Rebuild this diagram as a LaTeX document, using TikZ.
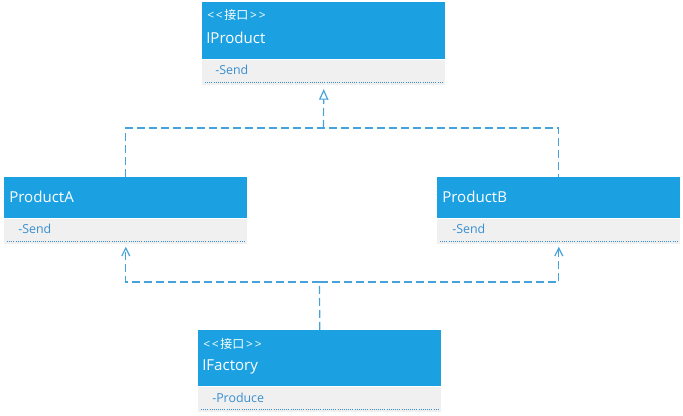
\documentclass[tikz,border=0pt]{standalone}
\usepackage{fontspec}
\setmainfont{Open Sans}
\newfontfamily\cjk{Noto Sans CJK SC}
\usetikzlibrary{arrows.meta,positioning}
\definecolor{umlblue}{HTML}{1BA1E2}
\definecolor{umlbody}{HTML}{F0F0F0}
\definecolor{umltext}{HTML}{3A8FCF}
\definecolor{umlline}{HTML}{45A2DA}
\newcommand{\stereotag}{<\kern1.4pt<\kern1.2pt{\cjk 接口}\kern1.2pt>\kern1.4pt>}

\begin{document}
\begin{tikzpicture}[
  x=0.75pt, y=-0.75pt,
  hdr/.style={rectangle, fill=umlblue, anchor=north west, inner sep=0pt, minimum width=182.25pt},
  bodybox/.style={rectangle, fill=umlbody, inner sep=0pt, minimum width=182.25pt, minimum height=18.75pt},
  stereo/.style={anchor=west, inner sep=0pt, text=white, font=\fontsize{9}{11}\selectfont},
  cname/.style={anchor=west, inner sep=0pt, text=white, font=\fontsize{11.3}{13}\selectfont},
  attr/.style={anchor=west, inner sep=0pt, text=umltext, font=\fontsize{9.3}{11}\selectfont},
  dotline/.style={draw=umltext, densely dotted, line width=0.6pt},
  conn/.style={draw=umlline, line width=0.9pt, dash pattern=on 6pt off 3pt},
  realize/.style={conn, -{Triangle[open, length=8pt, width=7pt]}, shorten >=3pt},
  depend/.style={conn, -{Straight Barb[length=6pt, width=6pt]}, shorten >=2pt}
]
\useasboundingbox (0,0) rectangle (683,416);

% ---- IProduct ----
\node[hdr, minimum height=42.75pt] (iproduct) at (202,2) {};
\node[bodybox, below=0pt of iproduct] (iproductbody) {};
\node[stereo] (iproductst) at (207,15) {\stereotag};
\node[cname] (iproductname) at (206,38) {IProduct};
\node[attr] (iproductattr) at (215,70) {-Send};
\draw[dotline] ([shift={(3,-3)}]iproductbody.south west) -- ([shift={(-3,-3)}]iproductbody.south east);

% ---- ProductA ----
\node[hdr, minimum height=30.75pt] (producta) at (4,177) {};
\node[bodybox, below=0pt of producta] (productabody) {};
\node[cname] (productaname) at (9,197) {ProductA};
\node[attr] (productaattr) at (18,229) {-Send};
\draw[dotline] ([shift={(3,-3)}]productabody.south west) -- ([shift={(-3,-3)}]productabody.south east);

% ---- ProductB ----
\node[hdr, minimum height=30.75pt] (productb) at (437,177) {};
\node[bodybox, below=0pt of productb] (productbbody) {};
\node[cname] (productbname) at (442,197) {ProductB};
\node[attr] (productbattr) at (452,229) {-Send};
\draw[dotline] ([shift={(3,-3)}]productbbody.south west) -- ([shift={(-3,-3)}]productbbody.south east);

% ---- IFactory ----
\node[hdr, minimum height=42pt] (ifactory) at (198,330) {};
\node[bodybox, below=0pt of ifactory] (ifactorybody) {};
\node[stereo] (ifactoryst) at (203,344) {\stereotag};
\node[cname] (ifactoryname) at (202,367) {IFactory};
\node[attr] (ifactoryattr) at (212,398) {-Produce};
\draw[dotline] ([shift={(3,-3)}]ifactorybody.south west) -- ([shift={(-3,-3)}]ifactorybody.south east);

% ---- connectors ----
\coordinate (topjoin) at (323.5,128);
\coordinate (botjoin) at (319.5,282);
\draw[conn] (producta.north) |- (topjoin) -| (productb.north);
\draw[realize] (topjoin) -- (iproductbody.south);
\draw[conn] (ifactory.north) -- (botjoin);
\draw[depend] (botjoin) -| (productabody.south);
\draw[depend] (botjoin) -| (productbbody.south);
\end{tikzpicture}
\end{document}
